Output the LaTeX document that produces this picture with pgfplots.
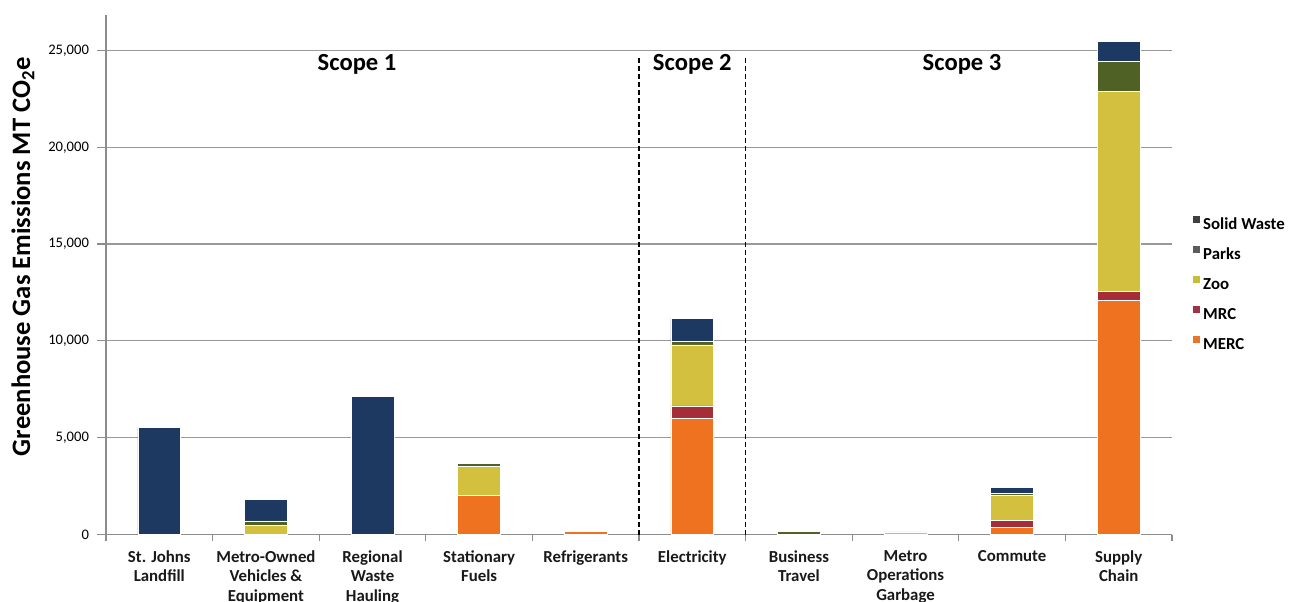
\documentclass[border=0pt]{standalone}
\usepackage{fontspec}
\setmainfont{Carlito}
\usepackage{pgfplots}
\pgfplotsset{compat=1.18}
\usepackage{pgfplotstable}
\definecolor{merc}{RGB}{238,114,32}
\definecolor{mrc}{RGB}{165,45,55}
\definecolor{zoo}{RGB}{210,192,62}
\definecolor{parks}{RGB}{80,97,37}
\definecolor{sw}{RGB}{30,57,97}
\definecolor{lsw}{RGB}{64,64,64}
\definecolor{lparks}{RGB}{92,92,92}
\definecolor{lzoo}{RGB}{200,190,50}
\definecolor{lmrc}{RGB}{160,50,70}
\definecolor{lmerc}{RGB}{232,118,40}
\pgfplotstableread{
x MERC MRC Zoo Parks SW
0 0 0 0 0 5530
1 0 0 450 250 1130
2 0 0 0 0 7150
3 2040 0 1460 150 80
4 150 0 0 0 60
5 6000 640 3150 170 1210
6 0 0 0 140 0
7 0 0 130 0 50
8 380 340 1300 120 300
9 12080 460 10330 1550 1030
}\data
\begin{document}
\begin{tikzpicture}
\begin{axis}[
  scale only axis, width=533pt, height=259.75pt,
  ybar stacked, bar width=21.4pt,
  xmin=-0.5, xmax=9.5, ymin=0, ymax=26830,
  axis x line*=bottom, axis y line*=left,
  axis line style={draw=black!45, line width=0.6pt},
  xtick={0,...,9},
  xticklabels={St. Johns\\Landfill, Metro-Owned\\Vehicles \&\\Equipment, Regional\\Waste\\Hauling, Stationary\\Fuels, Refrigerants, Electricity, Business\\Travel, Metro\\Operations\\Garbage, Commute, Supply\\Chain},
  major x tick style={draw=none},
  minor xtick={-0.5,0.5,...,9.5},
  minor x tick style={draw=black!45, line width=0.6pt},
  minor tick length=3pt,
  ytick={0,5000,...,25000},
  major y tick style={draw=black!45, line width=0.6pt},
  major tick length=4.5pt,
  tick align=outside,
  ymajorgrids, grid style={draw=black!40, line width=0.6pt},
  /pgf/number format/.cd, 1000 sep={,}, assume math mode=true, /pgfplots/.cd,
  scaled y ticks=false,
  yticklabel style={font=\fontsize{7.3}{8.5}\selectfont, text=black, xshift=-0.5pt},
  xticklabel style={font=\fontsize{8.4}{9.75}\selectfont\bfseries, align=center, text=black!90, yshift=0pt},
  ylabel={Greenhouse Gas Emissions MT CO\textsubscript{2}e},
  every axis y label/.style={at={(axis description cs:0,0.535)}, xshift=-41.5pt, rotate=90, anchor=center,
     font=\fontsize{13.3}{16}\selectfont\bfseries},
  legend image code/.code={\fill[#1] (0pt,0.4pt) rectangle (3.5pt,3.9pt);},
  legend style={draw=none, fill=none, at={(axis description cs:1,0.614)}, anchor=north west, xshift=10.5pt,
    font=\fontsize{8.4}{9.75}\selectfont\bfseries, row sep=8.05pt, inner sep=0pt,
    nodes={inner sep=0pt, text height=6pt, text depth=0pt}},
  legend cell align=left,
  legend entries={\,Solid Waste, \,Parks, \,Zoo, \,MRC, \,MERC},
  every axis plot/.append style={draw=white, line width=0.35pt},
]
\addlegendimage{fill=lsw, draw=none}
\addlegendimage{fill=lparks, draw=none}
\addlegendimage{fill=lzoo, draw=none}
\addlegendimage{fill=lmrc, draw=none}
\addlegendimage{fill=lmerc, draw=none}
\addplot[fill=merc] table[x=x, y=MERC] {\data};
\addplot[fill=mrc] table[x=x, y=MRC] {\data};
\addplot[fill=zoo] table[x=x, y=Zoo] {\data};
\addplot[fill=parks] table[x=x, y=Parks] {\data};
\addplot[fill=sw] table[x=x, y=SW] {\data};
\draw[black, line width=0.8pt, dash pattern=on 2.5pt off 1.5pt] (axis cs:4.5,24600) -- (axis cs:4.5,0);
\draw[black, line width=0.8pt, dash pattern=on 2.5pt off 1.5pt] (axis cs:5.5,24600) -- (axis cs:5.5,0);
\node[font=\fontsize{12.3}{14}\selectfont\bfseries] at (axis cs:1.855,24300) {Scope 1};
\node[font=\fontsize{12.3}{14}\selectfont\bfseries] at (axis cs:5,24300) {Scope 2};
\node[font=\fontsize{12.3}{14}\selectfont\bfseries] at (axis cs:7.53,24300) {Scope 3};
\coordinate (O) at (rel axis cs:0,0);
\end{axis}
\pgfresetboundingbox
\path[use as bounding box] (O) ++(-53pt,-33.25pt) rectangle ++(646.5pt,300.5pt);
\end{tikzpicture}
\end{document}
